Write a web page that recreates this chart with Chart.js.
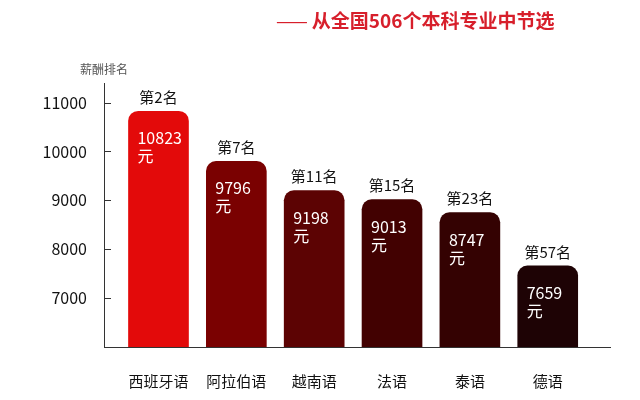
<!DOCTYPE html>
<html>
<head>
<meta charset="utf-8">
<script src="https://cdn.jsdelivr.net/npm/chart.js@4/dist/chart.umd.min.js"></script>
<style>
  body { margin: 0; background: #fff; }
  #wrap { position: relative; width: 640px; height: 400px; overflow: hidden; }
  #title { position: absolute; left: 276px; top: 6px; color: #d71f2b; font: bold 19px "Noto Sans CJK SC", sans-serif; white-space: nowrap; }
  #title .dash { font-weight: normal; letter-spacing: -2px; margin-right: 6px; }
  #yname { position: absolute; left: 80px; top: 60px; color: #555; font: 12px "Noto Sans CJK SC", sans-serif; }
  canvas { position: absolute; left: 0; top: 0; }
</style>
</head>
<body>
<div id="wrap">
  <canvas id="Graph" width="640" height="400"></canvas>
  <div id="title"><span class="dash">——</span>从全国506个本科专业中节选</div>
  <div id="yname">薪酬排名</div>
</div>
<script>
// chart data
const majors = ['西班牙语', '阿拉伯语', '越南语', '法语', '泰语', '德语'];
const salaries = [10823, 9796, 9198, 9013, 8747, 7659];
const ranks = ['第2名', '第7名', '第11名', '第15名', '第23名', '第57名'];
const yTicks = [7000, 8000, 9000, 10000, 11000];
const barColors = ['#e30a0a', '#7a0101', '#5c0303', '#420101', '#340202', '#1e0305'];

const cjk = '"Noto Sans CJK SC", sans-serif';

// labels above and inside the bars, plus short inner tick marks
const barLabels = {
    id: 'barLabels',
    afterDatasetsDraw(chart) {
        const ctx = chart.ctx;
        const meta = chart.getDatasetMeta(0);
        ctx.save();
        meta.data.forEach((bar, i) => {
            ctx.fillStyle = '#111';
            ctx.font = '15px ' + cjk;
            ctx.textAlign = 'center';
            ctx.textBaseline = 'middle';
            ctx.fillText(ranks[i], bar.x, bar.y - 14);

            ctx.fillStyle = '#fff';
            ctx.font = '16px ' + cjk;
            ctx.textAlign = 'left';
            ctx.fillText(String(salaries[i]), bar.x - 21, bar.y + 27);
            ctx.fillText('元', bar.x - 21, bar.y + 45);
        });
        const y = chart.scales.y;
        const left = chart.chartArea.left;
        ctx.strokeStyle = '#333';
        ctx.lineWidth = 1;
        yTicks.forEach(v => {
            const py = Math.round(y.getPixelForValue(v)) + 0.5;
            ctx.beginPath();
            ctx.moveTo(left, py);
            ctx.lineTo(left + 7, py);
            ctx.stroke();
        });
        ctx.restore();
    }
};

new Chart(document.getElementById('Graph').getContext('2d'), {
    type: 'bar',
    data: {
        datasets: [{
            data: salaries.map((v, i) => ({ x: i, y: v })),
            backgroundColor: barColors,
            barThickness: 60,
            borderRadius: 10
        }]
    },
    options: {
        responsive: false,
        animation: false,
        layout: { padding: { top: 83, right: 30, left: 0, bottom: 0 } },
        plugins: { legend: { display: false }, tooltip: { enabled: false } },
        scales: {
            x: {
                type: 'linear',
                offset: false,
                min: -0.7,
                max: 5.8,
                afterBuildTicks: scale => { scale.ticks = majors.map((m, i) => ({ value: i })); },
                afterFit: scale => { scale.height = 53; },
                grid: { display: false, drawTicks: false, offset: false },
                border: { display: true, color: '#333', width: 1 },
                ticks: {
                    autoSkip: false,
                    maxRotation: 0,
                    padding: 25,
                    color: '#111',
                    font: { size: 15, family: cjk },
                    callback: v => majors[v]
                }
            },
            y: {
                min: 6000,
                max: 11400,
                afterBuildTicks: scale => { scale.ticks = yTicks.map(v => ({ value: v })); },
                afterFit: scale => { scale.width = 104; },
                grid: { display: false, drawTicks: false },
                border: { display: true, color: '#333', width: 1 },
                ticks: {
                    padding: 17,
                    color: '#111',
                    font: { size: 16, family: cjk },
                    callback: v => String(v)
                }
            }
        }
    },
    plugins: [barLabels]
});
</script>
</body>
</html>
